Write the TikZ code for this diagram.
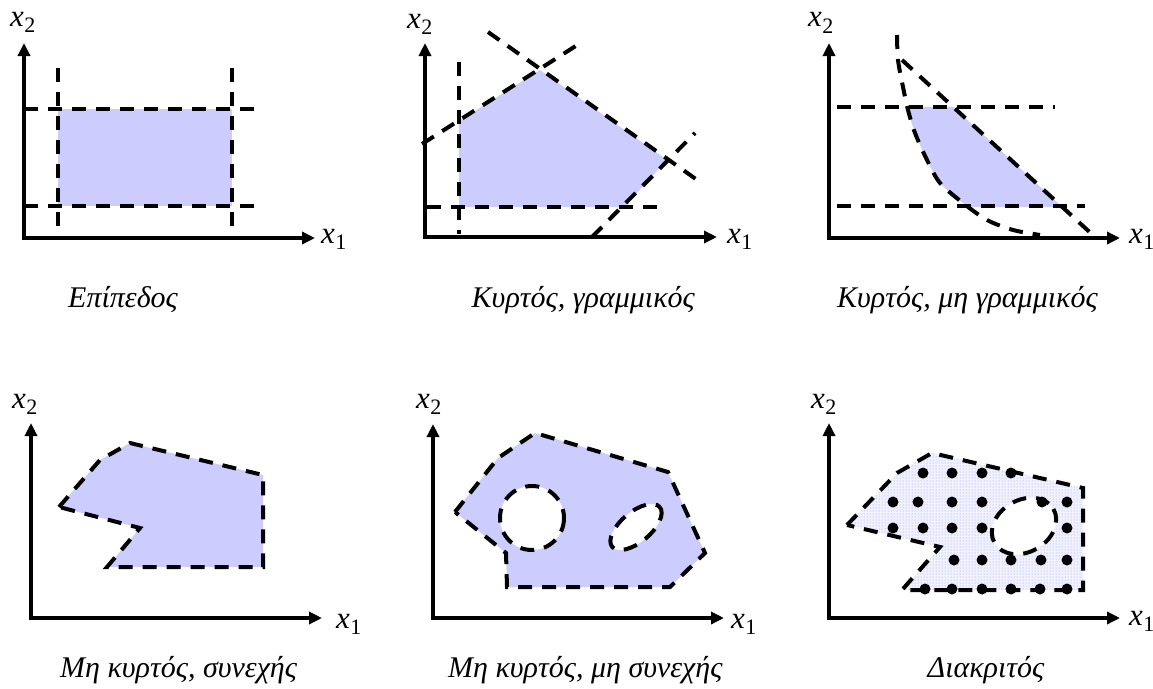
\documentclass[tikz,border=0pt]{standalone}
\usepackage{fontspec}
\setmainfont{Liberation Serif}
\usetikzlibrary{arrows.meta,patterns}
\definecolor{lav}{RGB}{204,204,255}
\definecolor{lavbg}{RGB}{242,242,255}
\definecolor{lavdot}{RGB}{150,150,240}
\newcommand\xv[1]{{\fontsize{31}{33}\selectfont\itshape x}\kern0.5pt\raisebox{-6.5pt}{\fontsize{22}{24}\selectfont #1}}
\begin{document}
\begin{tikzpicture}[x=1pt,y=-1pt,
  axis/.style={line width=4pt,line join=miter,{Triangle[length=13pt,width=12pt]}-{Triangle[length=13pt,width=12pt]}},
  dline/.style={line width=4pt,dash pattern=on 14pt off 10pt},
  region/.style={fill=lav},
  lbl/.style={font=\fontsize{30}{33}\selectfont\itshape, inner sep=0pt},
  varlbl/.style={inner sep=0pt, anchor=base west}]
\useasboundingbox (0,0) rectangle (1153,688);

% ---------------- Panel 1: Epipedos
\fill[region] (58,109) rectangle (232,206);
\draw[dline] (58,68) -- (58,238);
\draw[dline] (232,68) -- (232,238);
\draw[dline] (24,109) -- (255,109);
\draw[dline] (24,206) -- (255,206);
\coordinate (t1) at (24,43); \coordinate (o1) at (24,238); \coordinate (r1) at (315,238);
\draw[axis] (t1) -- (o1) -- (r1);
\node[varlbl] (y1) at (10,26) {\xv{2}};
\node[varlbl] (x1) at (321,243) {\xv{1}};
\node[lbl,anchor=base west] (L1) at (68,307) {Επίπεδος};

% ---------------- Panel 2: convex linear
\fill[region] (459,121) -- (540,70) -- (667,160) -- (624,207) -- (459,207) -- cycle;
\draw[dline] (459,62) -- (459,234);
\draw[dline] (427,207) -- (658,207);
\draw[dline] (422,144) -- (582,42);
\draw[dline] (488,32) -- (700,182);
\draw[dline] (592,237) -- (695,133);
\coordinate (t2) at (425,43); \coordinate (o2) at (425,237); \coordinate (r2) at (717,237);
\draw[axis] (t2) -- (o2) -- (r2);
\node[varlbl] (y2) at (407,28) {\xv{2}};
\node[varlbl] (x2) at (727,243) {\xv{1}};
\node[lbl,anchor=base east] (L2) at (695,307) {Κυρτός, γραμμικός};

% ---------------- Panel 3: convex nonlinear
\begin{scope}
\clip (800,107) rectangle (1153,206);
\fill[region] plot[smooth] coordinates {(897,35) (898,60) (903,87) (908,110) (915,133) (927,160) (940,183) (963,203) (987,220) (1013,230) (1040,235)} -- (1095,237) -- (902,60) -- cycle;
\end{scope}
\draw[dline] (837,107) -- (1055,107);
\draw[dline] (837,206) -- (1085,206);
\draw[dline] (902,60) -- (1095,237);
\draw[dline] plot[smooth] coordinates {(897,35) (898,60) (903,87) (908,110) (915,133) (927,160) (940,183) (963,203) (987,220) (1013,230) (1040,235)};
\coordinate (t3) at (829,43); \coordinate (o3) at (829,238); \coordinate (r3) at (1120,238);
\draw[axis] (t3) -- (o3) -- (r3);
\node[varlbl] (y3) at (808,27) {\xv{2}};
\node[varlbl] (x3) at (1129,243) {\xv{1}};
\node[lbl,anchor=base west] (L3) at (837,307) {Κυρτός, μη γραμμικός};

% ---------------- Panel 4: nonconvex continuous
\draw[dline,region] (59,507) -- (100,460) -- (130,443) -- (263,475) -- (263,567) -- (107,567) -- (140,528) -- cycle;
\coordinate (t4) at (31,423); \coordinate (o4) at (31,618); \coordinate (r4) at (322,618);
\draw[axis] (t4) -- (o4) -- (r4);
\node[varlbl] (y4) at (12,408) {\xv{2}};
\node[varlbl] (x4) at (336,628) {\xv{1}};
\node[lbl,anchor=base west] (L4) at (60,677) {Μη κυρτός, συνεχής};

% ---------------- Panel 5: nonconvex, non continuous
\draw[dline,region] (455,512) -- (498,458) -- (535,433) -- (668,472) -- (705,553) -- (670,587) -- (507,587) -- (506,553) -- cycle;
\draw[dline,fill=white] (532,518) circle[radius=32];
\draw[dline,fill=white,rotate around={40:(636,527)}] (636,527) ellipse[x radius=31, y radius=15];
\coordinate (t5) at (433,424); \coordinate (o5) at (433,618); \coordinate (r5) at (724,618);
\draw[axis] (t5) -- (o5) -- (r5);
\node[varlbl] (y5) at (416,408) {\xv{2}};
\node[varlbl] (x5) at (731,628) {\xv{1}};
\node[lbl,anchor=base west] (L5) at (448,677) {Μη κυρτός, μη συνεχής};

% ---------------- Panel 6: discrete
\fill[lavbg] (847,525) -- (897,473) -- (932,453) -- (1083,488) -- (1083,590) -- (902,590) -- (940,547) -- cycle;
\draw[dline,pattern=dots,pattern color=lavdot] (847,525) -- (897,473) -- (932,453) -- (1083,488) -- (1083,590) -- (902,590) -- (940,547) -- cycle;
\draw[dline,fill=white,rotate around={30:(1024,526)}] (1024,526) ellipse[x radius=34, y radius=26];
\foreach \x in {923,952,982,1011} \fill (\x,473) circle[radius=5.5];
\foreach \x in {893,918,952,982,1042,1067} \fill (\x,502) circle[radius=5.5];
\foreach \x in {893,923,952,982,1067} \fill (\x,528) circle[radius=5.5];
\foreach \x in {954,982,1011,1041,1067} \fill (\x,560) circle[radius=5.5];
\foreach \x in {925,952,982,1011,1040,1067} \fill (\x,589) circle[radius=5.5];
\coordinate (t6) at (829,423); \coordinate (o6) at (829,618); \coordinate (r6) at (1120,618);
\draw[axis] (t6) -- (o6) -- (r6);
\node[varlbl] (y6) at (811,408) {\xv{2}};
\node[varlbl] (x6) at (1129,625) {\xv{1}};
\node[lbl,anchor=base] (L6) at (986,677) {Διακριτός};
\end{tikzpicture}
\end{document}
